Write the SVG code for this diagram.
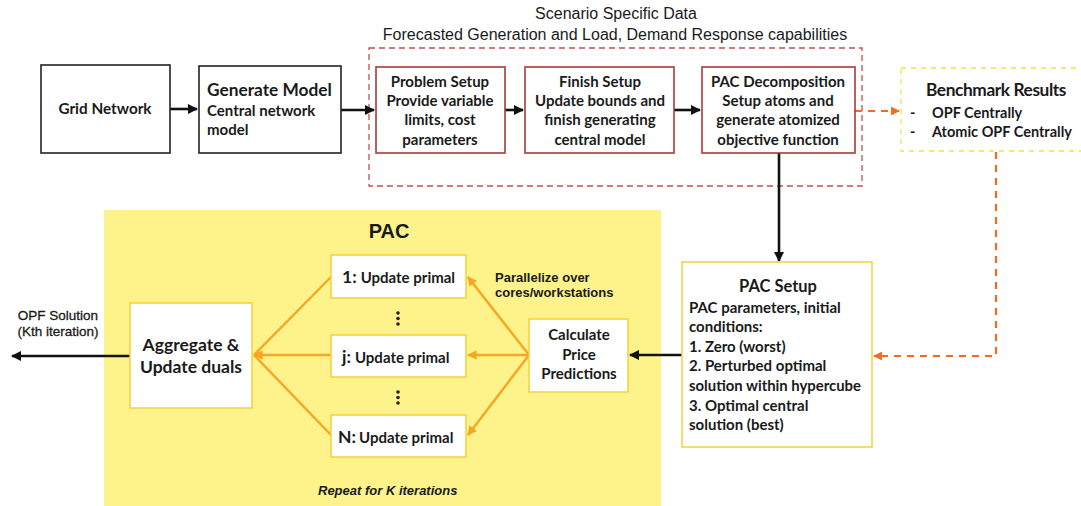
<svg xmlns="http://www.w3.org/2000/svg" width="1081" height="506" viewBox="0 0 1081 506">
  <defs>
    <marker id="ah-black" viewBox="0 0 10 10" refX="9" refY="5" markerWidth="4" markerHeight="4" orient="auto" markerUnits="strokeWidth">
      <path d="M0,0 L10,5 L0,10 z" fill="#111"/>
    </marker>
    <marker id="ah-orange" viewBox="0 0 10 10" refX="9" refY="5" markerWidth="4" markerHeight="4" orient="auto" markerUnits="strokeWidth">
      <path d="M0,0 L10,5 L0,10 z" fill="#f26b21"/>
    </marker>
    <marker id="ah-gold" viewBox="0 0 10 10" refX="9" refY="5" markerWidth="4" markerHeight="4" orient="auto" markerUnits="strokeWidth">
      <path d="M0,0 L10,5 L0,10 z" fill="#f6a623"/>
    </marker>
    <style>
      .box { fill: #fff; stroke: #222; stroke-width: 1.6; }
      .rbox { fill: #fff; stroke: #a83a3a; stroke-width: 1.6; }
      .ybox { fill: #fff; stroke: #f3d13a; stroke-width: 1.5; }
      .cal { font-family: Lato, "Noto Sans", "Liberation Sans", sans-serif; font-weight: 700; fill: #1a1a1a; }
      .ari { font-family: "Liberation Sans", Arial, sans-serif; fill: #1a1a1a; }
      .mid { text-anchor: middle; }
      .blk { stroke: #111; stroke-width: 2.6; fill: none; }
      .org { stroke: #f26b21; stroke-width: 2.2; fill: none; stroke-dasharray: 7 6; }
      .gld { stroke: #f6a623; stroke-width: 2.4; fill: none; }
    </style>
  </defs>

  <rect width="1081" height="506" fill="#fff"/>

  <!-- PAC iteration area -->
  <rect id="pac-area" x="104" y="210" width="557" height="296" fill="#fdf38a"/>

  <!-- scenario data region -->
  <g id="scenario">
    <text class="ari mid" x="616" y="19" font-size="16">Scenario Specific Data</text>
    <text class="ari mid" x="615" y="40" font-size="16">Forecasted Generation and Load, Demand Response capabilities</text>
    <rect x="369" y="48" width="493" height="138" fill="none" stroke="#c0504d" stroke-width="1.3" stroke-dasharray="6 4"/>
  </g>

  <!-- connectors -->
  <g id="connectors">
    <line class="blk" x1="170" y1="109" x2="197" y2="109" stroke-width="2.2" marker-end="url(#ah-black)"/>
    <line class="blk" x1="341" y1="110" x2="374" y2="110" stroke-width="2.2" marker-end="url(#ah-black)"/>
    <line class="blk" x1="505" y1="110" x2="523" y2="110" stroke-width="2.2" marker-end="url(#ah-black)"/>
    <line class="blk" x1="674" y1="110" x2="700" y2="110" stroke-width="2.2" marker-end="url(#ah-black)"/>
    <line class="org" x1="855" y1="111" x2="899" y2="111" marker-end="url(#ah-orange)"/>
    <line class="blk" x1="779" y1="153" x2="779" y2="261" marker-end="url(#ah-black)"/>
    <polyline class="org" points="996,152 996,356 874,356" marker-end="url(#ah-orange)"/>
    <line class="blk" x1="682" y1="355" x2="630" y2="355" marker-end="url(#ah-black)"/>
    <line class="gld" x1="529" y1="355" x2="468" y2="277" marker-end="url(#ah-gold)"/>
    <line class="gld" x1="529" y1="355" x2="468" y2="355" marker-end="url(#ah-gold)"/>
    <line class="gld" x1="529" y1="355" x2="468" y2="435" marker-end="url(#ah-gold)"/>
    <line class="gld" x1="331" y1="277" x2="254" y2="355"/>
    <line class="gld" x1="331" y1="435" x2="254" y2="355"/>
    <line class="gld" x1="331" y1="355" x2="254" y2="355" marker-end="url(#ah-gold)"/>
    <line class="blk" x1="130" y1="356" x2="12" y2="356" marker-end="url(#ah-black)"/>
  </g>

  <g id="grid-network">
    <rect class="box" x="41" y="65" width="129" height="88"/>
    <text class="cal mid" x="105" y="114" font-size="15.3">Grid Network</text>
  </g>

  <g id="generate-model">
    <rect class="box" x="199" y="66" width="142" height="87"/>
    <text class="cal" x="207" y="96" font-size="17.3">Generate Model</text>
    <text class="cal" x="207" y="116" font-size="15">Central network</text>
    <text class="cal" x="207" y="135" font-size="15">model</text>
  </g>

  <g id="problem-setup">
    <rect class="rbox" x="376" y="67" width="129" height="86"/>
    <text class="cal mid" x="440" y="87" font-size="15">Problem Setup</text>
    <text class="cal mid" x="440" y="106" font-size="15">Provide variable</text>
    <text class="cal mid" x="440" y="125" font-size="15">limits, cost</text>
    <text class="cal mid" x="440" y="145" font-size="15">parameters</text>
  </g>

  <g id="finish-setup">
    <rect class="rbox" x="525" y="67" width="149" height="86"/>
    <text class="cal mid" x="600" y="87" font-size="15">Finish Setup</text>
    <text class="cal mid" x="600" y="106" font-size="15">Update bounds and</text>
    <text class="cal mid" x="600" y="125" font-size="15">finish generating</text>
    <text class="cal mid" x="600" y="145" font-size="15">central model</text>
  </g>

  <g id="pac-decomposition">
    <rect class="rbox" x="702" y="67" width="153" height="86"/>
    <text class="cal mid" x="778" y="87" font-size="15">PAC Decomposition</text>
    <text class="cal mid" x="778" y="106" font-size="15">Setup atoms and</text>
    <text class="cal mid" x="778" y="125" font-size="15">generate atomized</text>
    <text class="cal mid" x="778" y="145" font-size="15">objective function</text>
  </g>

  <g id="benchmark-results">
    <rect x="901" y="68" width="190" height="83" fill="#fff" stroke="#f4e04a" stroke-width="1.3" stroke-dasharray="5 5"/>
    <text class="cal" x="926" y="96" font-size="17.3" letter-spacing="-0.4">Benchmark Results</text>
    <text class="cal" x="910" y="118" font-size="14.5">-</text>
    <text class="cal" x="932" y="118" font-size="14.5">OPF Centrally</text>
    <text class="cal" x="910" y="137" font-size="14.5">-</text>
    <text class="cal" x="932" y="137" font-size="14.5">Atomic OPF Centrally</text>
  </g>

  <g id="pac-setup">
    <rect class="ybox" x="682" y="262" width="190" height="185"/>
    <text class="cal mid" x="778" y="292" font-size="16.5">PAC Setup</text>
    <text class="cal" x="689" y="313" font-size="15">PAC parameters, initial</text>
    <text class="cal" x="689" y="332" font-size="15">conditions:</text>
    <text class="cal" x="689" y="352" font-size="15">1. Zero (worst)</text>
    <text class="cal" x="689" y="371" font-size="15">2. Perturbed optimal</text>
    <text class="cal" x="689" y="391" font-size="15" textLength="172" lengthAdjust="spacingAndGlyphs">solution within hypercube</text>
    <text class="cal" x="689" y="411" font-size="15">3. Optimal central</text>
    <text class="cal" x="689" y="430" font-size="15">solution (best)</text>
  </g>

  <g id="pac-title">
    <text class="ari mid" x="389" y="238" font-size="20" font-weight="700">PAC</text>
  </g>

  <g id="parallel-note">
    <text class="ari" x="495" y="282" font-size="13" font-weight="700">Parallelize over</text>
    <text class="ari" x="495" y="297" font-size="13" font-weight="700">cores/workstations</text>
  </g>

  <g id="calculate-price">
    <rect class="ybox" x="529" y="319" width="99" height="73"/>
    <text class="cal mid" x="579" y="340" font-size="15">Calculate</text>
    <text class="cal mid" x="579" y="360" font-size="15">Price</text>
    <text class="cal mid" x="579" y="379" font-size="15">Predictions</text>
  </g>

  <g id="update-primal-1">
    <rect class="ybox" x="331" y="255" width="135" height="43"/>
    <text class="cal" x="342" y="283"><tspan font-size="17.5">1:</tspan><tspan font-size="15" dx="4">Update primal</tspan></text>
  </g>

  <g id="ellipsis-1" fill="#222">
    <circle cx="398" cy="313" r="1.8"/>
    <circle cx="398" cy="318.5" r="1.8"/>
    <circle cx="398" cy="324" r="1.8"/>
  </g>

  <g id="update-primal-j">
    <rect class="ybox" x="331" y="335" width="135" height="42"/>
    <text class="cal" x="342" y="363"><tspan font-size="17.5">j:</tspan><tspan font-size="15" dx="4">Update primal</tspan></text>
  </g>

  <g id="ellipsis-2" fill="#222">
    <circle cx="398" cy="392" r="1.8"/>
    <circle cx="398" cy="397.5" r="1.8"/>
    <circle cx="398" cy="403" r="1.8"/>
  </g>

  <g id="update-primal-n">
    <rect class="ybox" x="331" y="415" width="135" height="42"/>
    <text class="cal" x="338" y="443"><tspan font-size="17.5">N:</tspan><tspan font-size="15" dx="3">Update primal</tspan></text>
  </g>

  <g id="aggregate">
    <rect class="ybox" x="130" y="303" width="122" height="105"/>
    <text class="cal mid" x="191" y="351" font-size="17.5">Aggregate &amp;</text>
    <text class="cal mid" x="191" y="373" font-size="17.5">Update duals</text>
  </g>

  <g id="repeat-note">
    <text class="ari" x="318" y="495" font-size="13" font-weight="700" font-style="italic">Repeat for K iterations</text>
  </g>

  <g id="opf-output">
    <text class="ari mid" x="58" y="320" font-size="13.5" stroke="#1a1a1a" stroke-width="0.3">OPF Solution</text>
    <text class="ari mid" x="58" y="336" font-size="13.5" stroke="#1a1a1a" stroke-width="0.3">(Kth iteration)</text>
  </g>
</svg>
